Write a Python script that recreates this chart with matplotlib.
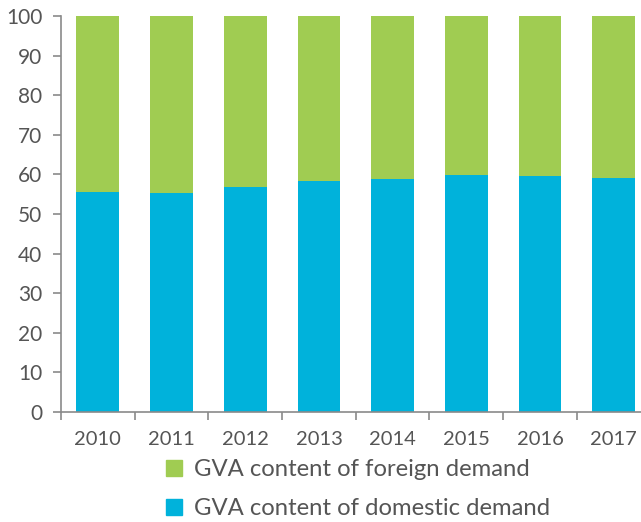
import numpy as np
import matplotlib.pyplot as plt
from matplotlib.patches import Patch

years = ["2010", "2011", "2012", "2013", "2014", "2015", "2016", "2017"]
domestic = [55.6, 55.3, 56.8, 58.3, 58.8, 59.8, 59.6, 59.1]
foreign = [100 - d for d in domestic]

green = "#A0CC52"
blue = "#00B2DB"
grey = "#555555"
axis_grey = "#8a8a8a"

plt.rcParams["font.family"] = ["Lato", "DejaVu Sans"]

fig = plt.figure(figsize=(6.41, 5.22), dpi=100)
ax = fig.add_axes([61 / 641, (522 - 412) / 522, 1 - 61 / 641, (412 - 16) / 522])

x = np.arange(len(years))
ax.bar(x, domestic, width=0.58, color=blue, zorder=2)
ax.bar(x, foreign, width=0.58, bottom=domestic, color=green, zorder=2)

ax.set_xlim(-0.5, 7.37)
ax.set_ylim(0, 100)
ax.set_yticks(range(0, 101, 10))
ax.set_xticks(x)
ax.set_xticklabels(years)
ax.set_xticks(np.arange(-0.5, 7.5, 1), minor=True)

ax.tick_params(axis="y", length=5.5, width=1.2, color=axis_grey, pad=8,
               labelsize=15, labelcolor=grey)
ax.tick_params(axis="x", which="major", length=0, pad=14, labelsize=14.5, labelcolor=grey)
ax.tick_params(axis="x", which="minor", length=6, width=1.2, color=axis_grey)

for s in ["top", "right"]:
    ax.spines[s].set_visible(False)
for s in ["left", "bottom"]:
    ax.spines[s].set_color(axis_grey)
    ax.spines[s].set_linewidth(1.2)

handles = [Patch(color=green, label="GVA content of foreign demand"),
           Patch(color=blue, label="GVA content of domestic demand")]
fig.legend(handles=handles, loc="upper left", bbox_to_anchor=(0.259, 0.12),
           frameon=False, fontsize=17.2, labelcolor=grey, handlelength=0.67,
           handleheight=0.67, handletextpad=0.5, labelspacing=0.75,
           borderaxespad=0, borderpad=0)

fig.savefig("out.png", dpi=100)
